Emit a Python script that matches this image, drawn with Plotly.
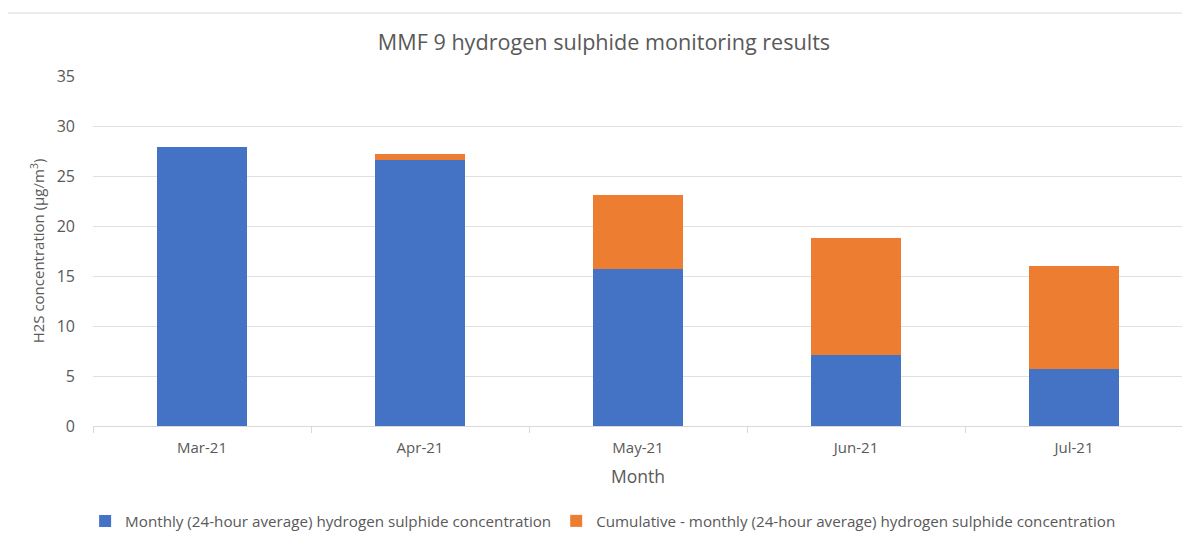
import plotly.graph_objects as go

months = ["Mar-21", "Apr-21", "May-21", "Jun-21", "Jul-21"]
monthly = [27.9, 26.6, 15.7, 7.1, 5.7]
cumulative_extra = [0.0, 0.6, 7.4, 11.7, 10.3]

name_monthly = "Monthly (24-hour average) hydrogen sulphide concentration"
name_cumulative = "Cumulative - monthly (24-hour average) hydrogen sulphide concentration"

OFF = 8  # page body margin
W, H = 1190 - OFF, 536 - OFF
L, T = 93 - OFF, 76 - OFF
pw, ph = 1090, 350
R, B = W - L - pw, H - T - ph

fig = go.Figure()
fig.add_trace(go.Bar(x=months, y=monthly, name=name_monthly,
                     marker=dict(color="#4472C4", line=dict(color="#4472C4", width=0))))
fig.add_trace(go.Bar(x=months, y=cumulative_extra, name=name_cumulative,
                     marker=dict(color="#ED7D31", line=dict(color="#ED7D31", width=0))))

font_family = "Open Sans, Noto Sans, sans-serif"
grey = "#595959"

fig.update_layout(
    width=W, height=H,
    barmode="stack",
    bargap=0.59,
    paper_bgcolor="white",
    plot_bgcolor="white",
    margin=dict(l=L, r=R, t=T, b=B, autoexpand=False),
    font=dict(family=font_family, color=grey),
    title=dict(text="MMF 9 hydrogen sulphide monitoring results",
               x=(604 - OFF) / W, xanchor="center", y=1 - 34 / H, yanchor="middle",
               font=dict(size=21.6, color=grey, family=font_family)),
    legend=dict(orientation="h", x=0.468, xref="paper", xanchor="center",
                y=-(521 - 426) / ph, yanchor="middle", traceorder="normal",
                font=dict(size=15.2, color=grey), itemwidth=30),
    showlegend=True,
)

fig.update_xaxes(
    automargin=False,
    showgrid=False,
    showline=True, linecolor="#d9d9d9", linewidth=1,
    ticks="outside", tickson="boundaries", ticklen=6, tickcolor="#d9d9d9",
    tickfont=dict(size=15, color=grey),
    ticklabelstandoff=8,
    title=dict(text="Month", font=dict(size=17.5, color=grey), standoff=14),
)
fig.update_yaxes(
    automargin=False,
    range=[0, 35], dtick=5,
    showgrid=True, gridcolor="#e0e0e0", gridwidth=1,
    zeroline=False, showline=False,
    tickfont=dict(size=16, color=grey),
    ticklabelstandoff=17,
    title=dict(text="H2S concentration (µg/m<sup>3</sup>)", font=dict(size=15, color=grey), standoff=8),
)

# chart frame
fig.add_shape(type="rect", xref="paper", yref="paper",
              x0=(4 - 93) / pw, x1=(1195 - 93) / pw,
              y0=(426 - 545) / ph, y1=(426 - 13) / ph,
              line=dict(color="#d9d9d9", width=1), fillcolor="rgba(0,0,0,0)", layer="below")

fig.write_html("out.html")
